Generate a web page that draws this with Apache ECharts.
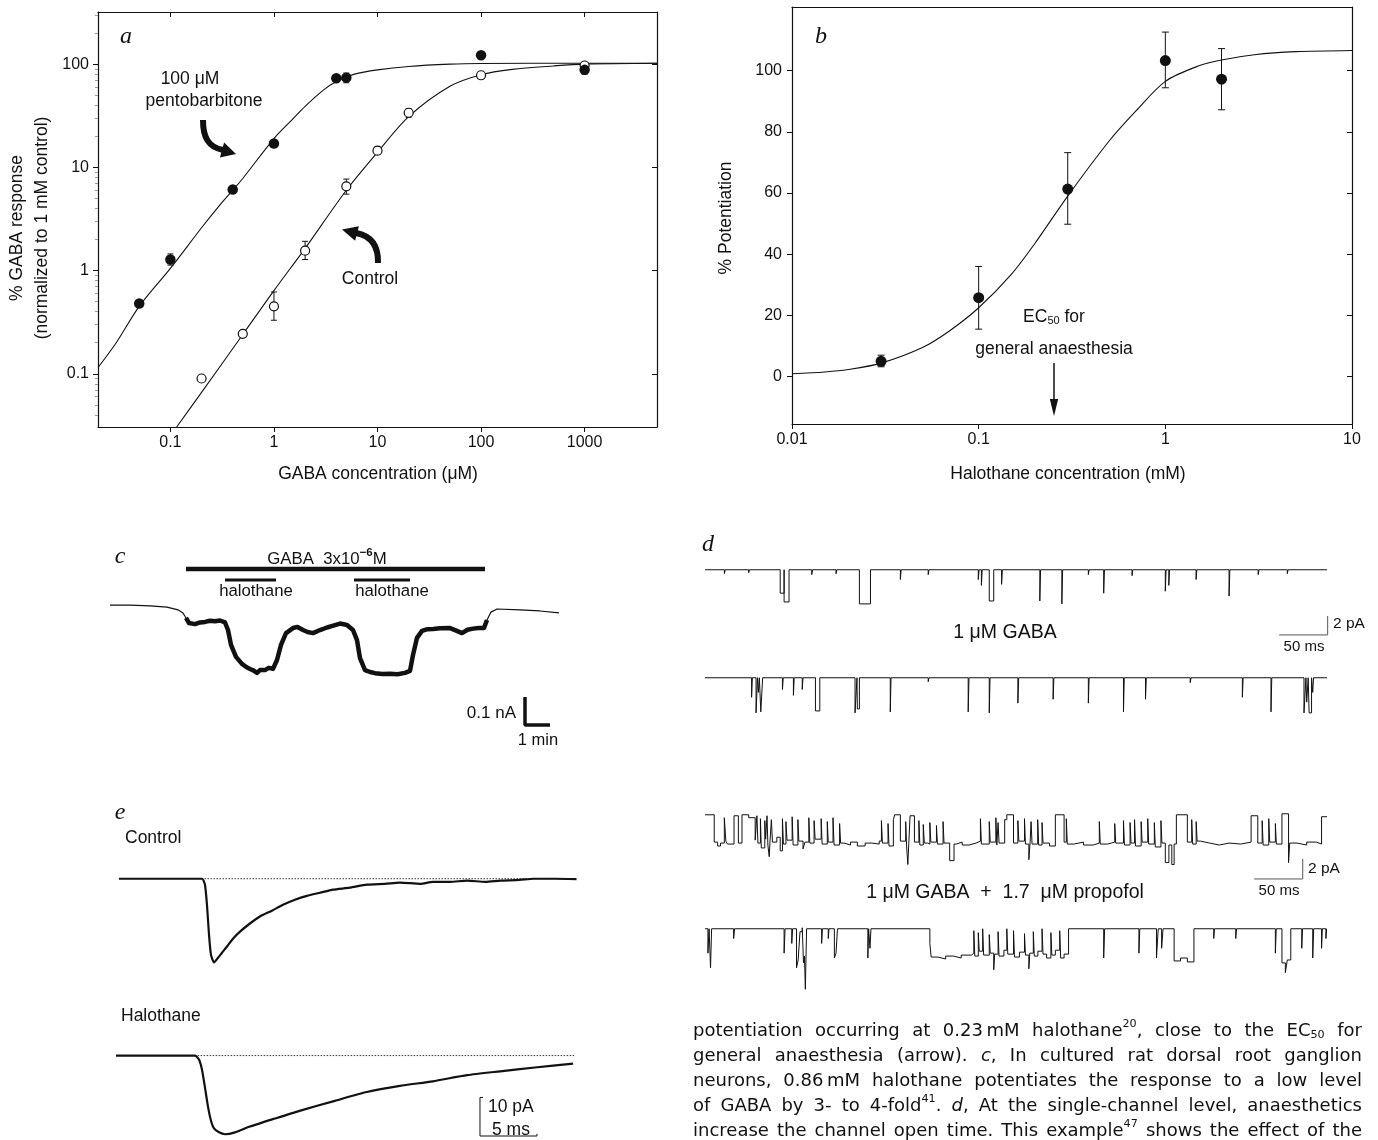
<!DOCTYPE html>
<html>
<head>
<meta charset="utf-8">
<script src="https://cdn.jsdelivr.net/npm/echarts@6/dist/echarts.min.js"></script>
<style>
html,body{margin:0;padding:0;background:#fff}
#chart{width:1378px;height:1140px}
</style>
</head>
<body>
<div id="chart"></div>
<script>
var FAMILY = '"Liberation Sans", Arial, Helvetica, sans-serif';
var SERIF = '"Liberation Serif", "Times New Roman", serif';
var PARA = '"DejaVu Sans", sans-serif';
var INK = '#111';
var TXT = 17.5;

// ---------- a : GABA concentration-response ----------
var aXTicks = [0.1, 1, 10, 100, 1000];
var aYTicks = [0.1, 1, 10, 100];
var aYMinor = [0.04,0.05,0.06,0.07,0.08,0.09,0.2,0.3,0.4,0.5,0.6,0.7,0.8,0.9,2,3,4,5,6,7,8,9,20,30,40,50,60,70,80,90,200,300];
var aPentoX = [0.05, 0.1, 0.4, 1, 4, 5, 100, 1000];
var aPentoY = [0.48, 1.28, 6.1, 17, 73, 74, 122, 88];
var aCtrlX = [0.2, 0.5, 1, 2, 5, 10, 20, 100, 1000];
var aCtrlY = [0.09, 0.244, 0.45, 1.56, 6.55, 14.5, 33.8, 78, 97];
var aErr = [[0.1,1.13,1.45],[5,66,82],[100,114,131],[1000,80,96],
            [1,0.33,0.62],[2,1.28,1.92],[5,5.5,7.7],[10,13.3,15.8],[20,30.5,37]];
var aPentoFitX = [0.02, 0.03, 0.05, 0.1, 0.2, 0.3, 0.4, 0.5, 1, 1.5, 2, 3, 4, 6, 10, 20, 50, 100, 1000, 5000];
var aPentoFitY = [0.115, 0.2, 0.45, 1.05, 2.6, 4.3, 6.0, 7.8, 19, 29, 39, 56, 68, 80, 88, 95, 100, 101.5, 102, 102];
var aCtrlFitX = [0.115, 0.2, 0.5, 1, 2, 5, 10, 20, 50, 100, 200, 500, 1000, 5000];
var aCtrlFitY = [0.0305, 0.066, 0.24, 0.64, 1.64, 6.0, 14, 31, 61, 79, 89, 96, 100, 102];

// ---------- b : halothane potentiation ----------
var bXTicks = [0.01, 0.1, 1, 10];
var bYTicks = [0, 20, 40, 60, 80, 100];
var bX = [0.03, 0.1, 0.3, 1, 2];
var bY = [5, 25.8, 61.3, 103.3, 97.2];
var bLo = [3.2, 15.5, 49.8, 94.4, 87.2];
var bHi = [7, 36, 73.2, 112.6, 107.2];
var bFitX = [0.01, 0.015, 0.02, 0.03, 0.05, 0.07, 0.1, 0.15, 0.2, 0.3, 0.5, 0.7, 1, 1.5, 2, 3, 5, 10];
var bFitY = [0.9, 1.5, 2.3, 4.4, 9.5, 15, 22.5, 33.5, 43.5, 59, 77, 87, 96.5, 101.5, 103.5, 105.2, 106.2, 106.6];

// ---------- c : whole-cell current (min, nA) ----------
var cTrace = [[0,-0.004],[0.8,-0.004],[1.6,-0.007],[2.28,-0.011],[2.72,-0.021],[2.92,-0.032],[3.04,-0.05],
  [3.16,-0.068],[3.4,-0.072],[3.6,-0.066],[3.8,-0.064],[4.0,-0.06],[4.2,-0.062],[4.4,-0.059],[4.6,-0.066],
  [4.72,-0.093],[4.84,-0.146],[5.04,-0.189],[5.28,-0.214],[5.45,-0.225],[5.6,-0.232],[5.75,-0.238],[5.88,-0.246],
  [6.0,-0.236],[6.2,-0.236],[6.35,-0.228],[6.52,-0.232],[6.68,-0.2],[6.84,-0.146],[7.04,-0.104],[7.32,-0.086],
  [7.5,-0.082],[7.72,-0.093],[7.9,-0.1],[8.12,-0.104],[8.4,-0.093],[8.68,-0.084],[8.9,-0.078],[9.2,-0.07],
  [9.48,-0.075],[9.72,-0.093],[9.88,-0.129],[10.0,-0.193],[10.2,-0.236],[10.4,-0.243],[10.6,-0.247],[10.9,-0.25],
  [11.2,-0.249],[11.5,-0.251],[11.8,-0.246],[12.0,-0.239],[12.12,-0.182],[12.28,-0.121],[12.48,-0.096],[12.7,-0.09],
  [12.92,-0.089],[13.2,-0.087],[13.6,-0.086],[13.85,-0.095],[14.08,-0.104],[14.3,-0.092],[14.52,-0.088],[14.75,-0.086],
  [14.96,-0.086],[15.08,-0.057],[15.24,-0.029],[15.48,-0.018],[16.4,-0.021],[17.2,-0.025],[17.96,-0.032]];
var cGabaBar = [3.04, 15.0];
var cHaloBars = [[4.6, 6.64], [9.76, 12.0]];

// ---------- d : single channels (ms, pA) ----------
// [start ms, duration ms, amplitude pA]
var d1Events = [[20,0.8,0.4],[45,0.8,0.3],[77.5,4,2.4],[81.5,5.1,3.3],[110,0.8,0.5],[135,0.8,0.4],[159.1,11.4,3.5],
  [201.3,0.8,1.0],[230,0.8,0.5],[281.6,0.8,1.0],[284.8,0.8,1.6],[292.9,4.6,3.2],[305.6,0.8,1.5],[345,0.8,3.2],
  [367.7,0.8,3.5],[395,0.8,0.5],[410.8,0.8,2.4],[440,0.8,0.6],[474.3,0.8,2.2],[477.9,0.8,1.6],[506,0.8,1.0],
  [540,0.8,2.7],[570,0.8,0.5],[600,0.8,0.4]];
var d2Events = [[48,0.8,2.0],[52.6,1.5,3.6],[55,1,1.5],[57.5,1.9,3.5],[79.8,0.8,1.2],[91.1,0.8,1.8],[100.2,0.8,1.2],
  [113.8,4.5,3.4],[154.6,2,3.6],[157,2.1,3.2],[190.9,0.8,3.5],[230,0.8,0.4],[271.2,0.8,3.5],[292.9,0.8,3.6],
  [322.4,0.8,2.6],[358.7,0.8,2.2],[395,0.8,2.6],[431.2,0.8,3.5],[453.9,0.8,2.2],[500,0.8,0.5],[553.7,0.8,2.0],
  [583.2,0.8,3.5],[617.2,2,3.6],[620,1.5,2.5],[622.5,2.5,3.6],[626.2,0.8,1.5]];
// [start ms, level pA] held until the next entry
var d3Levels = [[0,0.1],[9.5,-2.7],[13,-3.1],[16,-2.8],[19.9,-0.2],[21.5,-2.6],[23.1,-2.9],[29.9,0],[34.4,-2.8],[38.1,0.1],
  [45,-0.2],[51.7,-2.5],[53.5,0],[54.5,-2.8],[57.1,-0.3],[58,-3.3],[61.6,-0.5],[62.5,-2.4],[63.9,0],[64.8,-3.0],[66.2,-4.2],
  [67,-2.6],[68.4,-0.4],[69.5,-2.7],[74,-2.2],[77.5,-3.6],[79.8,-0.3],[80.8,-2.9],[83.4,-0.6],[84.5,-2.5],[89.8,-0.1],
  [90.8,-3.0],[95.7,-0.4],[96.7,-2.6],[101,-3.4],[103,-2.7],[107,-0.2],[108,-2.8],[112.4,-0.5],[113.5,-2.4],[119.7,-0.3],
  [120.7,-2.9],[126,-0.6],[127,-2.7],[131.9,-0.2],[133,-3.0],[138.7,-0.8],[139.7,-2.8],[143.3,-3.0],[150,-2.7],[157,-3.1],
  [165,-2.8],[172,-2.9],[179.5,-2.6],[181.8,-0.5],[182.8,-2.8],[188.6,-0.8],[189.6,-3.1],[194.1,-0.4],[195.4,0.1],
  [201.3,-2.6],[206.8,-0.6],[207.8,-3.2],[209,-5.0],[210,-2.8],[211.3,0],[215.8,-2.7],[220.4,-0.5],[221.4,-3.0],
  [224.9,-0.9],[226,-2.8],[229.4,-2.9],[231.7,-0.7],[232.7,-2.7],[238.5,-1.0],[239.5,-2.9],[245.3,-0.6],[246.3,-2.8],
  [252.1,-4.6],[256.6,-2.9],[258.9,-2.7],[265,-3.0],[272,-2.8],[279.3,-2.6],[283.8,-0.3],[284.8,-2.9],[292.9,-0.6],
  [293.9,-2.7],[299.7,-0.2],[300.7,-3.0],[302,-0.7],[303,-2.8],[308.8,-0.4],[311,0.1],[317.9,-2.8],[322.4,-0.5],
  [323.4,-2.6],[329.2,-0.3],[330.2,-2.9],[333.7,-4.5],[335,-2.7],[336,-0.6],[337,-2.9],[342.8,-0.4],[343.8,-3.0],
  [347.3,-0.7],[348.3,-2.8],[355,-3.1],[361,0.1],[370,-2.7],[372.3,-0.3],[373.3,-2.9],[380,-2.7],[390,-3.0],[400,-2.8],
  [406.3,-0.6],[407.3,-2.9],[415,-2.7],[422.2,-0.8],[423.2,-2.8],[431.2,-0.5],[432.2,-3.0],[438,-0.7],[439,-2.8],
  [442.6,-0.4],[443.6,-3.1],[449.4,-0.6],[450.4,-2.7],[456.2,-0.3],[457.2,-2.9],[463,-0.7],[464,-3.2],[469.8,-0.5],
  [470.8,-2.8],[474.3,-4.8],[478,-3.0],[481,-5.0],[483.4,-2.9],[485.7,0.1],[497,-2.7],[501.5,-0.4],[502.5,-2.9],
  [506.1,-0.6],[507.1,-2.6],[510.6,-2.8],[520,-3.0],[530,-2.8],[540,-2.9],[552,-2.7],[562.7,0],[569.6,-2.8],[574.1,-0.5],
  [575.1,-3.0],[580.9,-0.3],[581.9,-2.7],[587.7,-0.8],[588.7,-2.9],[594.5,0.2],[601.3,-4.8],[602.5,-2.8],[610,-3.0],
  [620,-2.7],[630,-2.9],[635.3,-0.1]];
var d4Levels = [[0,0],[3,-2.5],[4.2,0],[5.7,-4],[6.8,0],[29.5,-1],[30.5,0],[81.5,-2.5],[82.5,0],[89.4,-1.5],[90.3,0],
  [94.3,-4],[96,-3.2],[97.9,-0.3],[100.2,0.1],[101.5,-3.5],[102.5,-2.8],[103.4,-6.2],[104,-3.2],[104.7,0],[120.2,-1.5],
  [121,0],[127,-1],[127.8,0],[133.3,-3],[135,-2.5],[136.5,0],[167.8,-3],[168.6,0],[170,-2],[171,0],[231.7,-1.5],
  [233,-2.9],[240,-3.1],[248,-2.8],[256,-3.0],[264,-2.7],[274.8,-2.5],[277,-0.2],[278,-2.8],[281.6,-0.4],[282.6,-2.3],
  [286.1,0],[287.1,-2.7],[292.9,-0.6],[293.9,-2.5],[297.5,-4.2],[298.5,-2.6],[302,-0.3],[303,-2.8],[308,-2.2],[311,0],
  [312,-2.6],[317.9,-0.2],[318.9,-2.9],[324,-2.4],[329.2,-0.5],[330.2,-2.7],[333.7,-4.1],[334.7,-2.5],[338.3,-0.3],
  [339.3,-2.8],[343,-2.3],[347.3,0],[348.3,-2.6],[352,-3.0],[356.4,-0.4],[357.4,-2.7],[361,-2.2],[365.5,-0.2],
  [366.5,-3.0],[370,-2.6],[374.6,0],[410.8,-3],[411.8,0],[447.1,-2.5],[448,0],[465.2,-3],[467,0],[470.5,-2],[472,0],
  [483.4,-3.3],[490,-3.0],[497,-3.4],[503.8,0],[524.2,-1],[525,0],[546.9,-1],[547.7,0],[587.7,-2.5],[588.6,0],
  [594.5,-3.5],[598,-4.5],[600,-3.2],[603.6,0],[614.9,-2],[615.7,0],[626.2,-3],[627.2,0],[635.3,-2],[636.1,0],
  [639.8,-1],[640.5,0]];
var dEnd = 641;

// ---------- e : synaptic currents (ms, pA) ----------
var eControl = [[0.26,0],[7.54,0],[7.8,-1.5],[7.98,-6.7],[8.16,-14.4],[8.33,-19.5],[8.6,-21.5],[8.95,-20.3],[9.3,-19],
  [9.74,-17.4],[10.26,-15.4],[10.88,-13.6],[11.75,-11.5],[12.63,-9.7],[13.68,-8.2],[14.65,-6.7],[15.7,-5.4],[16.75,-4.4],
  [17.9,-3.6],[19.04,-2.8],[20.5,-2.3],[22.0,-1.5],[23.6,-1.3],[24.9,-1.0],[26.7,-1.3],[27.8,-0.8],[29.3,-0.8],
  [30.8,-0.5],[32.4,-0.8],[33.7,-0.5],[35.4,-0.3],[36.6,0],[38.5,0],[40.4,-0.1]];
var eHalo = [[0,0],[3.0,0],[6.93,0],[7.28,-1.0],[7.54,-3.6],[7.8,-8.2],[8.07,-13.3],[8.33,-16.9],[8.6,-19.0],[9.04,-20.0],
  [9.56,-20.5],[10.44,-20.0],[11.75,-18.5],[13.95,-16.4],[16.1,-14.4],[19.2,-11.8],[22.0,-9.5],[24.9,-7.9],[27.8,-6.7],
  [30.8,-5.1],[33.7,-4.1],[36.75,-3.1],[40.1,-2.1]];

var paraLines = [
  'potentiation occurring at 0.23\u2009mM halothane^{20}, close to the EC_{50} for',
  'general anaesthesia (arrow). *c*, In cultured rat dorsal root ganglion',
  'neurons, 0.86\u2009mM halothane potentiates the response to a low level',
  'of GABA by 3- to 4-fold^{41}. *d*, At the single-channel level, anaesthetics',
  'increase the channel open time. This example^{47} shows the effect of the'
];

// ---------- helpers ----------
function zip(xs, ys) { return xs.map(function (x, i) { return [x, ys[i]]; }); }
function eventsToTrace(ev, tEnd) {
  var pts = [[0, 0]];
  ev.forEach(function (e) { pts.push([e[0], 0], [e[0], -e[2]], [e[0] + e[1], -e[2]], [e[0] + e[1], 0]); });
  pts.push([tEnd, 0]);
  return pts;
}
function levelsToTrace(segs, tEnd) {
  var pts = [];
  segs.forEach(function (s, i) {
    var t1 = i + 1 < segs.length ? segs[i + 1][0] : tEnd;
    pts.push([s[0], s[1]], [t1, s[1]]);
  });
  return pts;
}
var ctx = document.createElement('canvas').getContext('2d');
function fontStr(size, italic, family, bold) {
  return (italic ? 'italic ' : '') + (bold ? 'bold ' : '') + size + 'px ' + family;
}
function textW(t, font) { ctx.font = font; return ctx.measureText(t).width; }
function txt(t, x, y, size, opt) {
  opt = opt || {};
  return {
    type: 'text', x: x, y: y, rotation: opt.rot || 0, silent: true, z: 100,
    style: {
      text: t, fill: opt.fill || INK,
      font: fontStr(size, opt.italic, opt.family || FAMILY, opt.bold),
      align: opt.align || 'left', verticalAlign: 'middle',
      textAlign: opt.align || 'left', textVerticalAlign: 'middle'
    }
  };
}
function run(segs, x, y, align, family) {
  var ws = segs.map(function (s) { return textW(s.t, fontStr(s.size, s.italic, family, s.bold)); });
  var total = ws.reduce(function (a, b) { return a + b; }, 0);
  var cx = align === 'center' ? x - total / 2 : (align === 'right' ? x - total : x);
  var out = [];
  segs.forEach(function (s, i) {
    out.push(txt(s.t, cx, y + (s.dy || 0), s.size, { italic: s.italic, bold: s.bold, family: family }));
    cx += ws[i];
  });
  return out;
}
function parseWord(w, size) {
  var segs = [], re = /\^\{([^}]*)\}|_\{([^}]*)\}|\*([^*]*)\*|([^\^_*]+)/g, m;
  while ((m = re.exec(w))) {
    if (m[1] !== undefined) segs.push({ t: m[1], size: size * 0.62, dy: -size * 0.36 });
    else if (m[2] !== undefined) segs.push({ t: m[2], size: size * 0.62, dy: size * 0.24 });
    else if (m[3] !== undefined) segs.push({ t: m[3], size: size, italic: true });
    else segs.push({ t: m[4], size: size });
  }
  return segs;
}
function lineLayout(line, size, family) {
  var words = line.split(' ').map(function (w) { return parseWord(w, size); });
  var widths = words.map(function (segs) {
    return segs.reduce(function (a, s) { return a + textW(s.t, fontStr(s.size, s.italic, family)); }, 0);
  });
  return { words: words, widths: widths, sum: widths.reduce(function (a, b) { return a + b; }, 0) };
}
function justified(lines, left, right, top, lead, size, family) {
  var W = right - left;
  // shrink the face if any line would need gaps under a quarter em
  lines.forEach(function (line) {
    var L = lineLayout(line, size, family);
    var need = L.sum + (L.words.length - 1) * size * 0.25;
    if (need > W) size = size * W / need;
  });
  var out = [];
  lines.forEach(function (line, li) {
    var L = lineLayout(line, size, family);
    var gap = (W - L.sum) / (L.words.length - 1);
    var x = left, y = top + li * lead;
    L.words.forEach(function (segs, i) {
      out = out.concat(run(segs, x, y, 'left', family));
      x += L.widths[i] + gap;
    });
  });
  return out;
}
function numFmt(v) { return v >= 1 ? String(Math.round(v)) : String(+(+v).toPrecision(3)); }

var LBL = { color: INK, fontSize: 16, fontFamily: FAMILY };
var AXL = { onZero: false, lineStyle: { color: INK, width: 1.2 } };
function hidden(g, min, max) { return { type: 'value', gridIndex: g, min: min, max: max, show: false }; }
function lineS(xi, yi, data, w, extra) {
  var s = { type: 'line', xAxisIndex: xi, yAxisIndex: yi, data: data, symbol: 'none', showSymbol: false,
    silent: true, animation: false, lineStyle: { color: INK, width: w } };
  for (var k in extra) s[k] = extra[k];
  return s;
}
function errSeries(xi, yi, data, cap) {
  return {
    type: 'custom', xAxisIndex: xi, yAxisIndex: yi, data: data, silent: true, z: 2,
    encode: { x: 0, y: [1, 2] },
    renderItem: function (p, api) {
      var x = api.value(0);
      var lo = api.coord([x, api.value(1)]), hi = api.coord([x, api.value(2)]);
      var st = { stroke: INK, lineWidth: 1 };
      return { type: 'group', children: [
        { type: 'line', shape: { x1: lo[0], y1: lo[1], x2: hi[0], y2: hi[1] }, style: st },
        { type: 'line', shape: { x1: hi[0] - cap, y1: hi[1], x2: hi[0] + cap, y2: hi[1] }, style: st },
        { type: 'line', shape: { x1: lo[0] - cap, y1: lo[1], x2: lo[0] + cap, y2: lo[1] }, style: st }
      ] };
    }
  };
}
function dots(xi, yi, data, size, open) {
  return { type: 'scatter', xAxisIndex: xi, yAxisIndex: yi, data: data, symbol: 'circle', symbolSize: size,
    silent: true, z: open ? 3 : 4,
    itemStyle: open ? { color: '#fff', borderColor: INK, borderWidth: 1.2, opacity: 1 } : { color: INK, opacity: 1 } };
}

var grids = [
  { left: 98, top: 12, width: 559, height: 415 },    // 0 a
  { left: 792, top: 7, width: 560, height: 417 },    // 1 b
  { left: 110, top: 560, width: 450, height: 170 },  // 2 c
  { left: 705, top: 560, width: 625, height: 80 },   // 3 d1
  { left: 705, top: 668, width: 625, height: 80 },   // 4 d2
  { left: 705, top: 806, width: 625, height: 80 },   // 5 d3
  { left: 705, top: 919, width: 625, height: 80 },   // 6 d4
  { left: 116, top: 869, width: 462, height: 109 },  // 7 e control
  { left: 116, top: 1046, width: 462, height: 95 }   // 8 e halothane
];

var xAxes = [
  { type: 'log', gridIndex: 0, min: 0.02, max: 5000, position: 'bottom', axisLine: AXL,
    axisTick: { length: 5, customValues: aXTicks, lineStyle: { color: INK } },
    axisLabel: Object.assign({ customValues: aXTicks, margin: 8, formatter: numFmt }, LBL), splitLine: { show: false } },
  { type: 'log', gridIndex: 0, min: 0.02, max: 5000, position: 'top', axisLine: AXL,
    axisTick: { inside: true, length: 5, customValues: aXTicks, lineStyle: { color: INK } },
    axisLabel: { show: false }, splitLine: { show: false } },
  { type: 'log', gridIndex: 1, min: 0.01, max: 10, position: 'bottom', axisLine: AXL,
    axisTick: { length: 5, customValues: bXTicks, lineStyle: { color: INK } },
    axisLabel: Object.assign({ customValues: bXTicks, margin: 8, formatter: numFmt }, LBL), splitLine: { show: false } },
  { type: 'log', gridIndex: 1, min: 0.01, max: 10, position: 'top', axisLine: AXL,
    axisTick: { show: false }, axisLabel: { show: false }, splitLine: { show: false } },
  hidden(2, 0, 18),
  hidden(3, 0, 644), hidden(4, 0, 644), hidden(5, 0, 644), hidden(6, 0, 644),
  hidden(7, 0, 40.53), hidden(8, 0, 40.53)
];
var yAxes = [
  { type: 'log', gridIndex: 0, min: 0.0305, max: 320, position: 'left', axisLine: AXL,
    axisTick: { length: 5, customValues: aYTicks, lineStyle: { color: INK } },
    axisLabel: Object.assign({ customValues: aYTicks, margin: 9, formatter: numFmt }, LBL), splitLine: { show: false } },
  { type: 'log', gridIndex: 0, min: 0.0305, max: 320, position: 'right', axisLine: AXL,
    axisTick: { inside: true, length: 5, customValues: aYTicks, lineStyle: { color: INK } },
    axisLabel: { show: false }, splitLine: { show: false } },
  { type: 'log', gridIndex: 0, min: 0.0305, max: 320, position: 'left', axisLine: { show: false },
    axisTick: { length: 3, customValues: aYMinor, lineStyle: { color: '#999' } },
    axisLabel: { show: false }, splitLine: { show: false } },
  { type: 'value', gridIndex: 1, min: -15.5, max: 120.8, position: 'left', axisLine: AXL,
    axisTick: { length: 5, customValues: bYTicks, lineStyle: { color: INK } },
    axisLabel: Object.assign({ customValues: bYTicks, margin: 10 }, LBL), splitLine: { show: false } },
  { type: 'value', gridIndex: 1, min: -15.5, max: 120.8, position: 'right', axisLine: AXL,
    axisTick: { inside: true, length: 5, customValues: bYTicks, lineStyle: { color: INK } },
    axisLabel: { show: false }, splitLine: { show: false } },
  hidden(2, -0.45, 0.157),
  hidden(3, -7.2, 1), hidden(4, -7.2, 1), hidden(5, -7.2, 1), hidden(6, -7.2, 1),
  hidden(7, -25.5, 2.5), hidden(8, -22, 2.5)
];

var series = [
  // a
  lineS(0, 0, zip(aPentoFitX, aPentoFitY), 1.1, { smooth: 0.3 }),
  lineS(0, 0, zip(aCtrlFitX, aCtrlFitY), 1.1, { smooth: 0.3 }),
  errSeries(0, 0, aErr, 3),
  dots(0, 0, zip(aCtrlX, aCtrlY), 9, true),
  dots(0, 0, zip(aPentoX, aPentoY), 10.5, false),
  // b
  lineS(2, 3, zip(bFitX, bFitY), 1.1, { smooth: 0.3 }),
  errSeries(2, 3, bX.map(function (x, i) { return [x, bLo[i], bHi[i]]; }), 3.5),
  dots(2, 3, zip(bX, bY), 11, false),
  // c
  lineS(4, 5, cGabaBar.map(function (t) { return [t, 0.125]; }), 4.5),
  lineS(4, 5, cTrace, 1.2),
  lineS(4, 5, cTrace.filter(function (p) { return p[0] >= 3.04 && p[0] <= 15.1; }), 4.5,
    { lineStyle: { color: INK, width: 4.5, join: 'round' } }),
  lineS(4, 5, [[16.6, -0.332], [16.6, -0.432], [17.6, -0.432]], 3.5),
  // d
  lineS(5, 6, eventsToTrace(d1Events, dEnd), 1),
  lineS(6, 7, eventsToTrace(d2Events, dEnd), 1),
  lineS(7, 8, levelsToTrace(d3Levels, dEnd), 1),
  lineS(8, 9, levelsToTrace(d4Levels, dEnd), 1),
  lineS(5, 6, [[591.6, -6.68], [641.6, -6.68], [641.6, -4.74]], 1, { lineStyle: { color: '#555', width: 1 } }),
  lineS(7, 8, [[565.9, -6.48], [615.9, -6.48], [615.9, -4.43]], 1, { lineStyle: { color: '#555', width: 1 } }),
  // e
  lineS(9, 10, [[7.5, 0], [40.4, 0]], 1, { lineStyle: { color: '#333', width: 1, type: [1.5, 1.5] } }),
  lineS(10, 11, [[6.9, 0], [40.2, 0]], 1, { lineStyle: { color: '#333', width: 1, type: [1.5, 1.5] } }),
  lineS(9, 10, eControl, 2.2, { smooth: 0.2 }),
  lineS(10, 11, eHalo, 2.2, { smooth: 0.2 }),
  lineS(10, 11, [[32.2, -10.9], [31.93, -10.9], [31.93, -20.96], [36.93, -20.96], [36.93, -20.4]], 1)
];
cHaloBars.forEach(function (b) { series.push(lineS(4, 5, [[b[0], 0.0857], [b[1], 0.0857]], 3)); });

var g = [];
// panel letters
[['a', 126, 37], ['b', 821, 37], ['c', 120, 557], ['d', 708, 545], ['e', 120, 813]].forEach(function (p) {
  g.push(txt(p[0], p[1], p[2], 24, { italic: true, family: SERIF, align: 'center' }));
});
// a annotations
g.push(txt('100 \u03bcM', 190, 79, TXT, { align: 'center' }));
g.push(txt('pentobarbitone', 204, 101, TXT, { align: 'center' }));
g.push(txt('Control', 370, 279, TXT, { align: 'center' }));
g.push({ type: 'bezierCurve', silent: true, z: 50, shape: { x1: 203, y1: 120, cpx1: 203, cpy1: 137, cpx2: 208, cpy2: 147, x2: 223, y2: 150 },
  style: { stroke: INK, lineWidth: 6, fill: null } });
g.push({ type: 'polygon', silent: true, z: 50, shape: { points: [[236, 154], [224.1, 142.6], [219.9, 157.4]] }, style: { fill: INK } });
g.push({ type: 'bezierCurve', silent: true, z: 50, shape: { x1: 378, y1: 263, cpx1: 378.5, cpy1: 247, cpx2: 372, cpy2: 236, x2: 356, y2: 233 },
  style: { stroke: INK, lineWidth: 6, fill: null } });
g.push({ type: 'polygon', silent: true, z: 50, shape: { points: [[342, 229.5], [358.9, 226.3], [355.1, 240.7]] }, style: { fill: INK } });
// axis titles
g.push(txt('% GABA response', 17, 228, TXT, { align: 'center', rot: Math.PI / 2 }));
g.push(txt('(normalized to 1 mM control)', 42, 228, TXT, { align: 'center', rot: Math.PI / 2 }));
g.push(txt('GABA concentration (\u03bcM)', 378, 474, TXT, { align: 'center' }));
g.push(txt('% Potentiation', 726, 218, TXT, { align: 'center', rot: Math.PI / 2 }));
g.push(txt('Halothane concentration (mM)', 1068, 474, TXT, { align: 'center' }));
// b annotation
g = g.concat(run([{ t: 'EC', size: TXT }, { t: '50', size: 11, dy: 4 }, { t: ' for', size: TXT }], 1054, 317, 'center', FAMILY));
g.push(txt('general anaesthesia', 1054, 349, TXT, { align: 'center' }));
g.push({ type: 'line', silent: true, z: 50, shape: { x1: 1054, y1: 363, x2: 1054, y2: 402 }, style: { stroke: INK, lineWidth: 1.5 } });
g.push({ type: 'polygon', silent: true, z: 50, shape: { points: [[1054, 416], [1049.8, 399], [1058.2, 399]] }, style: { fill: INK } });
// c labels
g = g.concat(run([{ t: 'GABA  3x10', size: 16.8 }, { t: '\u22126', size: 11.5, dy: -6, bold: true }, { t: 'M', size: 16.8 }], 327, 559, 'center', FAMILY));
g.push(txt('halothane', 256, 591, 16.8, { align: 'center' }));
g.push(txt('halothane', 392, 591, 16.8, { align: 'center' }));
g.push(txt('0.1 nA', 516, 713, 17, { align: 'right' }));
g.push(txt('1 min', 538, 740, 16.5, { align: 'center' }));
// d labels
g.push(txt('1 \u03bcM GABA', 1005, 633, 19.5, { align: 'center' }));
g.push(txt('1 \u03bcM GABA  +  1.7  \u03bcM propofol', 1005, 893, 19.5, { align: 'center' }));
g.push(txt('2 pA', 1333, 624, 15.5));
g.push(txt('50 ms', 1304, 647, 15, { align: 'center' }));
g.push(txt('2 pA', 1308, 869, 15.5));
g.push(txt('50 ms', 1279, 891, 15, { align: 'center' }));
// e labels
g.push(txt('Control', 125, 838, TXT));
g.push(txt('Halothane', 121, 1016, TXT));
g.push(txt('10 pA', 488, 1107, TXT));
g.push(txt('5 ms', 492, 1130, TXT));
// caption text
g = g.concat(justified(paraLines, 693, 1362, 1031, 25, 18, PARA));

var chart = echarts.init(document.getElementById('chart'));
chart.setOption({
  backgroundColor: '#fff',
  animation: false,
  textStyle: { fontFamily: FAMILY },
  grid: grids,
  xAxis: xAxes,
  yAxis: yAxes,
  series: series,
  graphic: { elements: g }
});
</script>
</body>
</html>
